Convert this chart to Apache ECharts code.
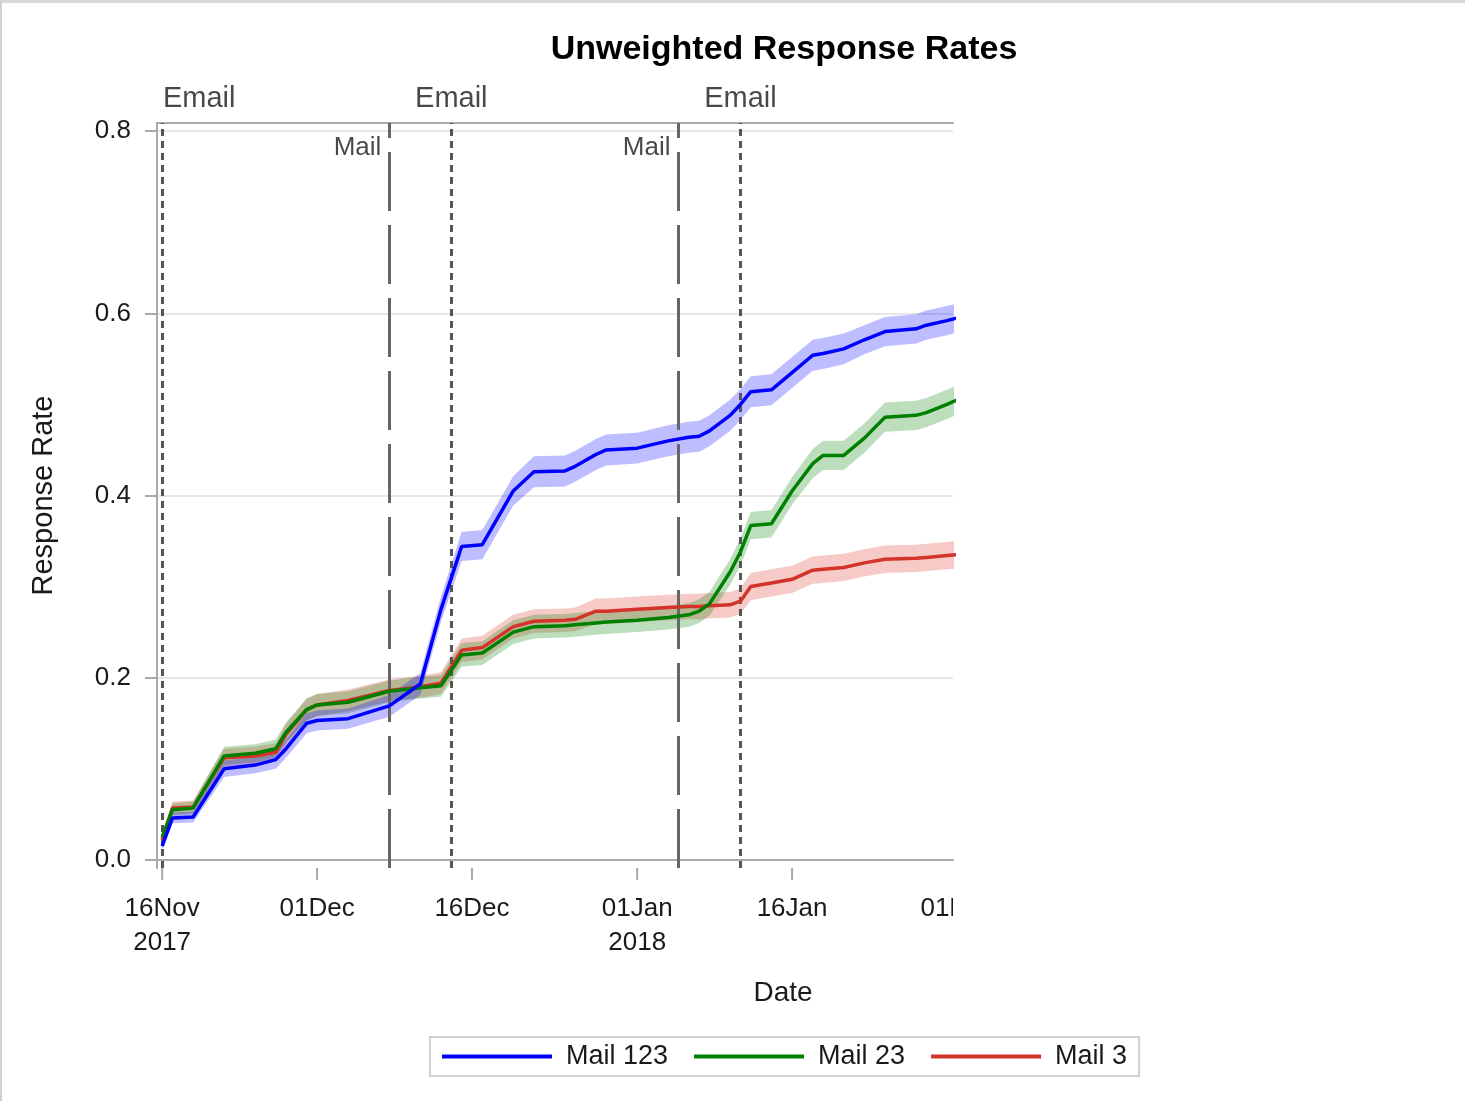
<!DOCTYPE html>
<html>
<head>
<meta charset="utf-8">
<title>Unweighted Response Rates</title>
<script src="https://cdn.jsdelivr.net/npm/echarts@6/dist/echarts.min.js"></script>
<style>
  html, body { margin: 0; padding: 0; background: #fff; }
  #chart { position: absolute; left: 0; top: 0; width: 1465px; height: 1101px; }
  #frame { position: absolute; left: 0; top: 0; width: 1463px; height: 1098px;
           border-top: 3px solid #d8d8d8; border-left: 2px solid #cfcfcf; pointer-events: none; }
</style>
</head>
<body>
<div id="chart"></div>
<div id="frame"></div>
<script>
// knots (one value per date)
const dates = [
  '2017-11-16', '2017-11-17', '2017-11-19', '2017-11-22', '2017-11-25', '2017-11-27', '2017-11-28', '2017-11-30',
  '2017-12-01', '2017-12-04', '2017-12-08', '2017-12-11', '2017-12-13', '2017-12-15', '2017-12-17', '2017-12-20',
  '2017-12-22', '2017-12-25', '2017-12-26', '2017-12-28', '2017-12-29', '2018-01-01', '2018-01-04', '2018-01-06',
  '2018-01-07', '2018-01-08', '2018-01-10', '2018-01-11', '2018-01-12', '2018-01-14', '2018-01-16', '2018-01-18',
  '2018-01-19', '2018-01-21', '2018-01-23', '2018-01-25', '2018-01-28', '2018-01-29', '2018-01-31', '2018-02-01'
];
const mail123 = [
  0.015, 0.046, 0.047, 0.100, 0.104, 0.110, 0.122, 0.150,
  0.153, 0.155, 0.169, 0.193, 0.275, 0.344, 0.346, 0.405,
  0.426, 0.427, 0.432, 0.445, 0.450, 0.452, 0.460, 0.464,
  0.465, 0.471, 0.488, 0.500, 0.514, 0.516, 0.535, 0.554,
  0.556, 0.561, 0.571, 0.580, 0.583, 0.587, 0.592, 0.595
];
const mail23 = [
  0.025, 0.055, 0.057, 0.114, 0.117, 0.122, 0.140, 0.165,
  0.170, 0.173, 0.185, 0.189, 0.191, 0.225, 0.227, 0.250,
  0.256, 0.257, 0.258, 0.260, 0.261, 0.263, 0.266, 0.269,
  0.273, 0.281, 0.316, 0.338, 0.367, 0.369, 0.405, 0.435,
  0.444, 0.444, 0.463, 0.486, 0.488, 0.491, 0.500, 0.505
];
const mail3 = [
  0.022, 0.057, 0.058, 0.112, 0.114, 0.118, 0.138, 0.165,
  0.170, 0.175, 0.186, 0.190, 0.194, 0.230, 0.233, 0.256,
  0.262, 0.263, 0.264, 0.273, 0.273, 0.275, 0.277, 0.278,
  0.278, 0.279, 0.280, 0.284, 0.300, 0.304, 0.308, 0.318,
  0.319, 0.321, 0.326, 0.330, 0.331, 0.332, 0.334, 0.335
];
// half-width of the shaded confidence bands
const mail123Ci = [
  0.004, 0.006, 0.006, 0.009, 0.009, 0.010, 0.010, 0.011,
  0.011, 0.011, 0.012, 0.012, 0.014, 0.016, 0.016, 0.016,
  0.017, 0.017, 0.017, 0.017, 0.017, 0.017, 0.017, 0.017,
  0.017, 0.017, 0.017, 0.017, 0.017, 0.017, 0.017, 0.017,
  0.017, 0.017, 0.016, 0.016, 0.016, 0.016, 0.016, 0.016
];
const mail23Ci = [
  0.005, 0.007, 0.007, 0.010, 0.010, 0.010, 0.011, 0.012,
  0.012, 0.012, 0.012, 0.012, 0.012, 0.013, 0.013, 0.013,
  0.013, 0.013, 0.013, 0.013, 0.013, 0.013, 0.013, 0.013,
  0.013, 0.013, 0.014, 0.015, 0.015, 0.015, 0.015, 0.016,
  0.016, 0.016, 0.016, 0.016, 0.016, 0.016, 0.016, 0.016
];
const mail3Ci = [
  0.005, 0.007, 0.007, 0.010, 0.010, 0.010, 0.011, 0.012,
  0.012, 0.012, 0.012, 0.012, 0.012, 0.013, 0.013, 0.013,
  0.013, 0.013, 0.013, 0.014, 0.014, 0.014, 0.014, 0.014,
  0.014, 0.014, 0.014, 0.014, 0.015, 0.015, 0.015, 0.015,
  0.015, 0.015, 0.015, 0.015, 0.015, 0.015, 0.015, 0.015
];
const emailDates = ['2017-11-16', '2017-12-14', '2018-01-11'];
const mailDates = ['2017-12-08', '2018-01-05'];
const xTickDates = ['2017-11-16', '2017-12-01', '2017-12-16', '2018-01-01', '2018-01-16', '2018-02-01'];
const xTickLabels = ['16Nov\n2017', '01Dec', '16Dec', '01Jan\n2018', '16Jan', '01Feb'];
const yTicks = [0, 0.2, 0.4, 0.6, 0.8];

const FONT = '"Liberation Sans", Arial, sans-serif';
const AXIS = '#a4aaae';
const TEXT = '#1a1a1a';
const Y_MIN = -0.009, Y_MAX = 0.809;

const ts = s => new Date(s + 'T00:00:00').getTime();
const xs = dates.map(ts);

function bandSeries(name, vals, ci, color) {
  return [
    {
      name: name + ' lower', type: 'line', stack: name, silent: true, z: 1,
      symbol: 'none', lineStyle: {opacity: 0},
      data: xs.map((x, i) => [x, vals[i] - ci[i]])
    },
    {
      name: name + ' band', type: 'line', stack: name, silent: true, z: 1,
      symbol: 'none', lineStyle: {opacity: 0}, areaStyle: {color: color, opacity: 1},
      data: xs.map((x, i) => [x, 2 * ci[i]])
    }
  ];
}

function lineSeries(name, vals, color) {
  return {
    name: name, type: 'line', z: 5, symbol: 'none',
    lineStyle: {color: color, width: 3.5}, itemStyle: {color: color},
    data: xs.map((x, i) => [x, vals[i]])
  };
}

const myChart = echarts.init(document.getElementById('chart'));
myChart.setOption({
  animation: false,
  textStyle: {fontFamily: FONT},
  title: [
    {
      text: 'Unweighted Response Rates', left: 779, top: 28, textAlign: 'center',
      textStyle: {fontSize: 34, fontWeight: 'bold', color: '#000', fontFamily: FONT}
    },
    {
      text: 'Date', left: 778, top: 974, textAlign: 'center',
      textStyle: {fontSize: 28, fontWeight: 'normal', color: TEXT, fontFamily: FONT}
    }
  ],
  legend: {
    data: ['Mail 123', 'Mail 23', 'Mail 3'],
    left: 430, top: 1037,
    icon: 'rect', itemWidth: 110, itemHeight: 4, itemGap: 26,
    padding: [6, 12], borderColor: '#d0d0d0', borderWidth: 2,
    textStyle: {fontSize: 27, color: TEXT, fontFamily: FONT, padding: [0, 0, 0, 9]}
  },
  grid: {left: 157, right: 512, top: 123, bottom: 233},
  xAxis: [
    {
      type: 'time',
      min: +new Date(2017, 10, 15, 12), max: +new Date(2018, 0, 31, 14),
      axisLine: {lineStyle: {color: AXIS, width: 2}},
      axisTick: {show: false},
      axisLabel: {show: false},
      splitLine: {show: false}
    },
    {
      type: 'value', position: 'top', min: 0, max: 1,
      axisLine: {show: true, lineStyle: {color: AXIS, width: 2}},
      axisTick: {show: false}, axisLabel: {show: false}, splitLine: {show: false}
    }
  ],
  yAxis: {
    type: 'value', min: Y_MIN, max: Y_MAX,
    name: 'Response Rate', nameLocation: 'middle', nameGap: 99,
    nameTextStyle: {fontSize: 29, color: TEXT, fontFamily: FONT},
    axisLine: {show: true, lineStyle: {color: AXIS, width: 2}},
    axisTick: {show: true, length: 12, customValues: yTicks, lineStyle: {color: AXIS, width: 2}},
    axisLabel: {
      customValues: yTicks, margin: 26, fontSize: 26, color: TEXT, fontFamily: FONT,
      formatter: v => v.toFixed(1)
    },
    splitLine: {show: true, lineStyle: {color: '#e6e6e6', width: 2}}
  },
  series: [
    ...bandSeries('Mail 3', mail3, mail3Ci, 'rgba(220, 50, 40, 0.26)'),
    ...bandSeries('Mail 23', mail23, mail23Ci, 'rgba(0, 128, 0, 0.26)'),
    ...bandSeries('Mail 123', mail123, mail123Ci, 'rgba(0, 0, 255, 0.26)'),
    {
      name: 'events', type: 'line', z: 3, data: [], silent: true,
      markLine: {
        silent: true, symbol: ['none', 'none'], label: {show: false}, animation: false,
        data: [
          ...emailDates.map(d => ({xAxis: ts(d), lineStyle: {color: '#555', width: 3, type: [7, 5]}})),
          ...mailDates.map(d => ({xAxis: ts(d), lineStyle: {color: '#666', width: 3, type: [59, 14]}}))
        ]
      }
    },
    lineSeries('Mail 3', mail3, '#d4332a'),
    lineSeries('Mail 23', mail23, '#008000'),
    lineSeries('Mail 123', mail123, '#0000ff'),
    {
      name: 'event labels', type: 'scatter', z: 6, silent: true, clip: false, symbolSize: 0,
      data: [
        ...emailDates.map((d, i) => ({
          value: [ts(d), Y_MAX], name: 'Email',
          label: {position: 'top', distance: 10, fontSize: 29, color: TEXT, offset: i === 0 ? [37, 0] : [0, 0]}
        })),
        ...mailDates.map(d => ({
          value: [ts(d), 0.782], name: 'Mail',
          label: {position: 'left', distance: 8, fontSize: 26, color: TEXT}
        }))
      ],
      label: {show: true, color: TEXT, fontFamily: FONT, formatter: p => p.name}
    },
    {
      name: 'x ticks', type: 'custom', z: 6, silent: true,
      data: xTickDates.map((d, i) => [ts(d), i]),
      renderItem(params, api) {
        const cs = params.coordSys;
        const x = api.coord([api.value(0), 0])[0];
        const bottom = cs.y + cs.height;
        return {
          type: 'group',
          clipPath: {type: 'rect', shape: {x: cs.x - 80, y: bottom - 2, width: cs.width + 80, height: 200}},
          children: [
            {
              type: 'line', shape: {x1: x, y1: bottom, x2: x, y2: bottom + 12},
              style: {stroke: AXIS, lineWidth: 2}
            },
            {
              type: 'text', x: x, y: bottom + 24,
              style: {
                text: xTickLabels[api.value(1)], align: 'center', verticalAlign: 'top',
                fontSize: 26, lineHeight: 34, fill: TEXT, fontFamily: FONT
              }
            }
          ]
        };
      }
    }
  ]
});
</script>
</body>
</html>
